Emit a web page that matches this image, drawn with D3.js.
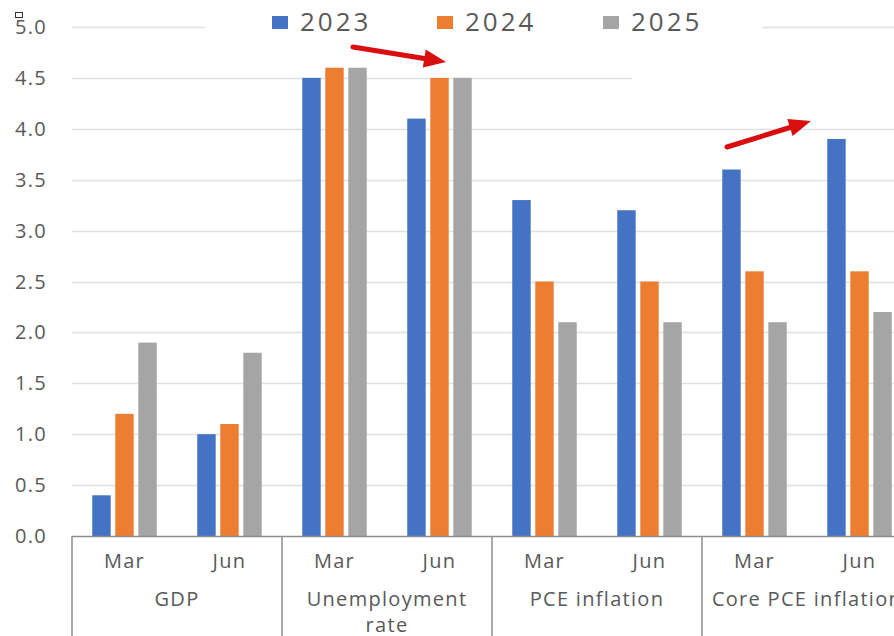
<!DOCTYPE html>
<html lang="en">
<head>
<meta charset="utf-8">
<title>Fed projections</title>
<script src="https://d3js.org/d3.v7.min.js"></script>
<style>
  body, html { margin: 0; padding: 0; background: #fff; }
  svg { display: block; }
  text { font-family: "Open Sans", "Noto Sans", sans-serif; fill: #595959; }
</style>
</head>
<body>
<svg id="chart" width="894" height="636"></svg>
<script>
// data
var groups = [["GDP"], ["Unemployment", "rate"], ["PCE inflation"], ["Core PCE inflation"]];
var months = ["Mar", "Jun"];
var years = ["2023", "2024", "2025"];
var v2023 = [0.4, 1.0, 4.5, 4.1, 3.3, 3.2, 3.6, 3.9];
var v2024 = [1.2, 1.1, 4.6, 4.5, 2.5, 2.5, 2.6, 2.6];
var v2025 = [1.9, 1.8, 4.6, 4.5, 2.1, 2.1, 2.1, 2.2];
var yTicks = [0, 0.5, 1, 1.5, 2, 2.5, 3, 3.5, 4, 4.5, 5];
var colors = ["#4472C4", "#ED7D31", "#A5A5A5"];

var svg = d3.select("#chart");
var W = 894, H = 636;
var left = 72, bottom = 536;

// one slot per group+month
var slots = [];
groups.forEach(function(g, gi) {
    months.forEach(function(m) { slots.push(gi + "-" + m); });
});
var series = [v2023, v2024, v2025];

var x0 = d3.scaleBand().domain(slots).range([left, left + 105 * slots.length]);
var x1 = d3.scaleBand().domain(years).range([0, x0.bandwidth()]).paddingInner(0.2).paddingOuter(0.88);
var y = d3.scaleLinear().domain([0, 5]).range([bottom, 27]);

// gridlines
svg.append("g").selectAll("line")
    .data(yTicks.filter(function(d) { return d > 0; }))
    .enter().append("line")
    .attr("x1", left).attr("x2", W)
    .attr("y1", function(d) { return Math.round(y(d)) + 0.5; })
    .attr("y2", function(d) { return Math.round(y(d)) + 0.5; })
    .attr("stroke", "#e0e0e0").attr("stroke-width", 1.5);

// erased patches of the screenshot
svg.append("rect").attr("x", 632).attr("y", 58).attr("width", W - 632).attr("height", 40).attr("fill", "#fff");
svg.append("rect").attr("x", 205).attr("y", 8).attr("width", 557).attr("height", 34).attr("fill", "#fff");

// y labels
svg.append("g").selectAll("text")
    .data(yTicks).enter().append("text")
    .attr("x", 47).attr("y", function(d) { return y(d) + 7; })
    .attr("text-anchor", "end")
    .style("font-size", "20px").style("letter-spacing", "1.3px")
    .text(function(d) { return d3.format(".1f")(d); });

// bars
var slotG = svg.append("g").selectAll("g")
    .data(slots).enter().append("g")
    .attr("transform", function(d) { return "translate(" + x0(d) + ",0)"; });

slotG.selectAll("rect")
    .data(function(d, i) { return years.map(function(yr, k) { return { yr: yr, k: k, v: series[k][i] }; }); })
    .enter().append("rect")
    .attr("x", function(d) { return x1(d.yr); })
    .attr("width", x1.bandwidth())
    .attr("y", function(d) { return y(d.v); })
    .attr("height", function(d) { return bottom - y(d.v); })
    .attr("fill", function(d) { return colors[d.k]; });

// category axis
var axisColor = "#8c8c8c";
svg.append("line").attr("x1", left).attr("x2", W).attr("y1", bottom + 0.5).attr("y2", bottom + 0.5)
    .attr("stroke", axisColor).attr("stroke-width", 1.5);
svg.append("g").selectAll("line")
    .data(groups).enter().append("line")
    .attr("x1", function(d, i) { return x0(i + "-Mar"); })
    .attr("x2", function(d, i) { return x0(i + "-Mar"); })
    .attr("y1", bottom).attr("y2", H)
    .attr("stroke", axisColor).attr("stroke-width", 1.5);

svg.append("g").selectAll("text")
    .data(slots).enter().append("text")
    .attr("x", function(d) { return x0(d) + x0.bandwidth() / 2; })
    .attr("y", 568)
    .attr("text-anchor", "middle")
    .style("font-size", "20px").style("letter-spacing", "1.3px")
    .text(function(d) { return d.split("-")[1]; });

var gl = svg.append("g").selectAll("text")
    .data(groups).enter().append("text")
    .attr("x", function(d, i) { return x0(i + "-Mar") + x0.bandwidth(); })
    .attr("y", 606)
    .attr("text-anchor", "middle")
    .style("font-size", "20px").style("letter-spacing", "1.3px");
gl.selectAll("tspan")
    .data(function(d, i) { return d.map(function(t) { return { t: t, i: i }; }); })
    .enter().append("tspan")
    .attr("x", function(d) { return x0(d.i + "-Mar") + x0.bandwidth(); })
    .attr("dy", function(d, j) { return j ? 26 : 0; })
    .text(function(d) { return d.t; });

// legend
var legendX = [272, 437, 603];
var leg = svg.append("g").selectAll("g")
    .data(years).enter().append("g")
    .attr("transform", function(d, i) { return "translate(" + legendX[i] + ",0)"; });
leg.append("rect").attr("x", 0).attr("y", 16).attr("width", 16).attr("height", 13)
    .attr("fill", function(d, i) { return colors[i]; });
leg.append("text").attr("x", 28).attr("y", 31)
    .style("font-size", "26px").style("letter-spacing", "3px")
    .text(function(d) { return d; });

// red arrows
var arrows = [[353, 47, 446, 62], [727, 147, 811, 121]];
arrows.forEach(function(a) {
    var ang = Math.atan2(a[3] - a[1], a[2] - a[0]);
    var hl = 22, hw = 9;
    var bx = a[2] - hl * Math.cos(ang), by = a[3] - hl * Math.sin(ang);
    svg.append("line")
        .attr("x1", a[0]).attr("y1", a[1]).attr("x2", bx).attr("y2", by)
        .attr("stroke", "#d90f0f").attr("stroke-width", 5).attr("stroke-linecap", "round");
    var px = -Math.sin(ang) * hw, py = Math.cos(ang) * hw;
    svg.append("path")
        .attr("d", "M" + a[2] + "," + a[3] + "L" + (bx + px) + "," + (by + py) + "L" + (bx - px) + "," + (by - py) + "Z")
        .attr("fill", "#d90f0f");
});

// small box glyph at top left
svg.append("rect").attr("x", 15.5).attr("y", 12.5).attr("width", 7).attr("height", 5)
    .attr("fill", "none").attr("stroke", "#333").attr("stroke-width", 1);
</script>
</body>
</html>
